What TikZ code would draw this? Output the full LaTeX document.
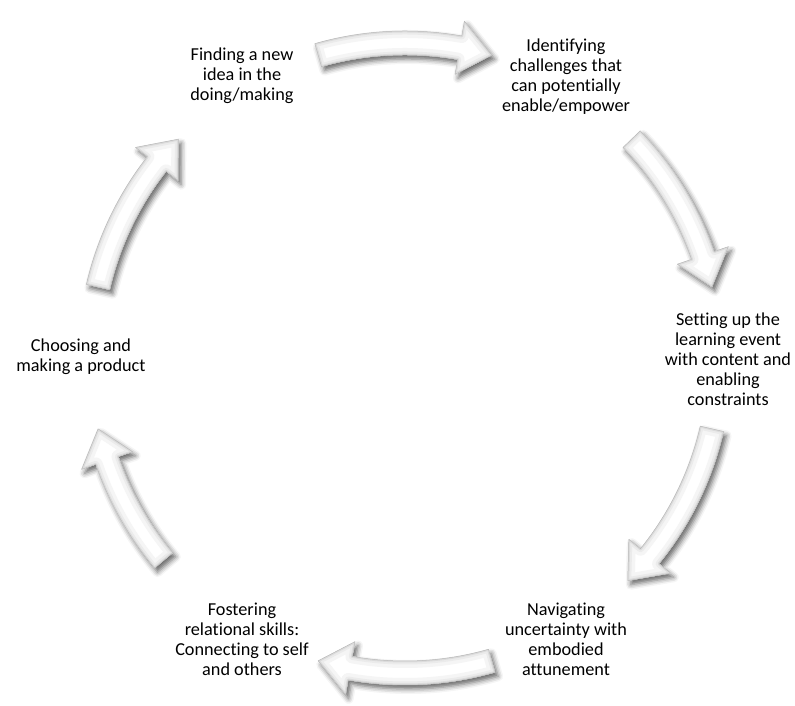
\documentclass[tikz,border=0pt]{standalone}
\usepackage{fontspec}
\setmainfont{Carlito}[Ligatures=NoCommon]
\usetikzlibrary{shadows.blur}
\def\Ro{327bp}\def\Ri{303bp}\def\Rc{315bp}\def\Rh{342bp}\def\Rhi{288bp}\def\hl{6}
\newcommand\arrowpath[2]{(#1:\Ro) arc[start angle=#1, end angle={#2+\hl}, radius=\Ro] -- ({#2+\hl}:\Rh) -- (#2:\Rc) -- ({#2+\hl}:\Rhi) -- ({#2+\hl}:\Ri) arc[start angle={#2+\hl}, end angle=#1, radius=\Ri] -- cycle}
\newcommand\cyclearrow[2]{%
  \fill[white, blur shadow={shadow xshift=3bp, shadow yshift=-4bp, shadow blur radius=5bp, shadow opacity=60}] \arrowpath{#1}{#2};
  \begin{scope}
    \clip \arrowpath{#1}{#2};
    \draw[gray!8, line width=14bp, line join=round] \arrowpath{#1}{#2};
    \draw[gray!16, line width=7bp, line join=round] \arrowpath{#1}{#2};
    \draw[gray!28, line width=3bp, line join=round] \arrowpath{#1}{#2};
  \end{scope}
  \draw[gray!55, line width=0.5bp, line join=round] \arrowpath{#1}{#2};
}
\tikzset{
  lbl/.style={align=center, text=black, font=\fontsize{18.3}{20}\selectfont, inner sep=0pt}
}
\begin{document}
\begin{tikzpicture}[x=1bp, y=1bp]
\useasboundingbox (0,0) rectangle (795,706);
\begin{scope}[shift={(405,348)}]
  \cyclearrow{106}{74}
  \cyclearrow{44}{13}
  \cyclearrow{-13}{-45}
  \cyclearrow{-74}{-106}
  \cyclearrow{220}{193}
  \cyclearrow{167}{136}
\end{scope}
\node[lbl] (n1) at (242,630) {Finding a new\\idea in the\\doing/making};
\node[lbl] (n2) at (566,629) {Identifying\\challenges that\\can potentially\\enable/empower};
\node[lbl] (n3) at (728,347) {Setting up the\\learning event\\with content and\\enabling\\constraints};
\node[lbl] (n4) at (566,67) {Navigating\\uncertainty with\\embodied\\attunement};
\node[lbl] (n5) at (242,67) {Fostering\\relational skills:\\Connecting to self\\and others};
\node[lbl] (n6) at (81,349) {Choosing and\\making a product};
\end{tikzpicture}
\end{document}
